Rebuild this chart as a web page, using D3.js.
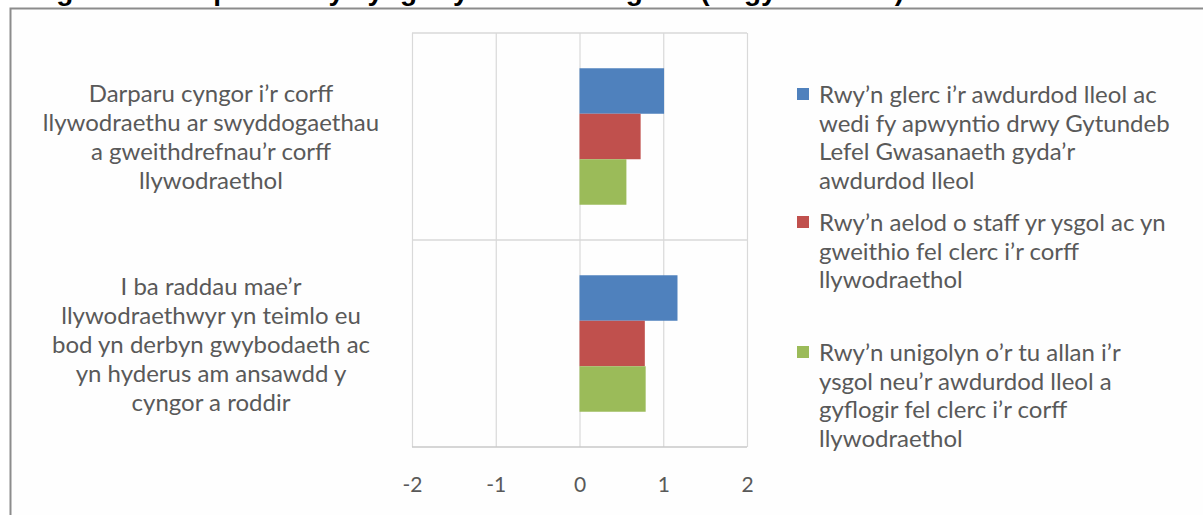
<!DOCTYPE html>
<html>
<head>
<meta charset="utf-8">
<script src="https://cdn.jsdelivr.net/npm/d3@7"></script>
<style>
  html, body { margin: 0; padding: 0; background: #ffffff; }
  svg { display: block; }
  text { font-family: Lato, "Open Sans", sans-serif; }
</style>
</head>
<body>
<svg id="chart" width="1203" height="515"></svg>
<script>
// Survey questions (category axis), top to bottom
const categories = [
  "Darparu cyngor i’r corff\nllywodraethu ar swyddogaethau\na gweithdrefnau’r corff\nllywodraethol",
  "I ba raddau mae’r\nllywodraethwyr yn teimlo eu\nbod yn derbyn gwybodaeth ac\nyn hyderus am ansawdd y\ncyngor a roddir"
];

// Clerk types (series)
const seriesNames = [
  "Rwy’n glerc i’r awdurdod lleol ac\nwedi fy apwyntio drwy Gytundeb\nLefel Gwasanaeth gyda’r\nawdurdod lleol",
  "Rwy’n aelod o staff yr ysgol ac yn\ngweithio fel clerc i’r corff\nllywodraethol",
  "Rwy’n unigolyn o’r tu allan i’r\nysgol neu’r awdurdod lleol a\ngyflogir fel clerc i’r corff\nllywodraethol"
];

// Average score per series, one value per category
const localAuthorityClerk = [1.01, 1.17];
const schoolStaffClerk = [0.73, 0.78];
const externalClerk = [0.56, 0.79];

const seriesColors = ["#4f81bd", "#c0504d", "#9bbb59"];
const xTicks = [-2, -1, 0, 1, 2];

const title = "Ffigur 9: Barn panel ar y cyngor yn ôl math o glerc (ar gyfartaledd)";

const seriesValues = [localAuthorityClerk, schoolStaffClerk, externalClerk];

const svg = d3.select("#chart");

// Figure title (sits above the chart frame, mostly off the top edge)
svg.append("text")
  .attr("x", 22)
  .attr("y", -0.5)
  .style("font-family", "'Liberation Sans', Arial, sans-serif")
  .attr("font-weight", "bold")
  .attr("font-size", 28)
  .attr("fill", "#000")
  .text(title);

// Chart frame
svg.append("rect")
  .attr("x", 10.5).attr("y", 8.5)
  .attr("width", 1300).attr("height", 600)
  .attr("fill", "#fefefe")
  .attr("stroke", "#8c8c8c")
  .attr("stroke-width", 2);

const plot = { left: 412, right: 747, top: 33, bottom: 447 };

const x = d3.scaleLinear().domain([-2, 2]).range([plot.left, plot.right]);
const y = d3.scaleBand().domain(d3.range(categories.length)).range([plot.top, plot.bottom]);
const ySub = d3.scaleBand().domain(d3.range(seriesNames.length))
  .range([0, y.bandwidth()]).paddingOuter(0.775).paddingInner(0);

const grid = "#d9d9d9";
const textColor = "#595959";
const fontSize = 24;

// Vertical gridlines and value labels
const xAxis = d3.axisBottom(x).tickValues(xTicks).tickSize(-(plot.bottom - plot.top))
  .tickPadding(30).tickFormat(d3.format("d"));
const gx = svg.append("g").attr("transform", `translate(0,${plot.bottom})`).call(xAxis);
gx.select(".domain").remove();
gx.selectAll(".tick line").attr("stroke", grid).attr("stroke-width", 1.2);
gx.selectAll(".tick text")
  .attr("fill", textColor)
  .attr("font-size", 21)
  .style("font-family", "Lato, 'Open Sans', sans-serif")
  .text(d => d < 0 ? "-" + Math.abs(d) : d);

// Horizontal category separators
const bounds = categories.map((c, i) => y(i)).concat([plot.bottom]);
svg.append("g").selectAll("line").data(bounds).join("line")
  .attr("x1", plot.left).attr("x2", plot.right)
  .attr("y1", d => d).attr("y2", d => d)
  .attr("stroke", (d, i) => i === bounds.length - 1 ? "#c8c8c8" : grid)
  .attr("stroke-width", 1.5);

// Bars
const groups = svg.append("g").selectAll("g").data(categories).join("g")
  .attr("transform", (d, i) => `translate(0,${y(i)})`);
groups.selectAll("rect")
  .data((d, ci) => seriesValues.map((vals, si) => ({ si, v: vals[ci] })))
  .join("rect")
  .attr("x", d => x(Math.min(0, d.v)))
  .attr("width", d => Math.abs(x(d.v) - x(0)))
  .attr("y", d => ySub(d.si))
  .attr("height", ySub.bandwidth())
  .attr("fill", d => seriesColors[d.si]);

// Category labels
const lineH = 29;
const catLabels = svg.append("g").selectAll("text").data(categories).join("text")
  .attr("text-anchor", "middle")
  .attr("fill", textColor)
  .attr("font-size", fontSize);
catLabels.each(function (d, i) {
  const lines = d.split("\n");
  const cy = y(i) + y.bandwidth() / 2 + 1;
  const y0 = cy - (lines.length - 1) * lineH / 2 + 8;
  d3.select(this).selectAll("tspan").data(lines).join("tspan")
    .attr("x", 211)
    .attr("y", (l, k) => y0 + k * lineH)
    .text(l => l);
});

// Legend
const legendTops = [95, 223, 353];
const legend = svg.append("g").selectAll("g").data(seriesNames).join("g");
legend.append("rect")
  .attr("x", 797).attr("y", (d, i) => legendTops[i] - 7)
  .attr("width", 12).attr("height", 12)
  .attr("fill", (d, i) => seriesColors[i]);
legend.append("text")
  .attr("fill", textColor)
  .attr("font-size", fontSize)
  .each(function (d, i) {
    d3.select(this).selectAll("tspan").data(d.split("\n")).join("tspan")
      .attr("x", 819)
      .attr("y", (l, k) => legendTops[i] + 8 + k * 28.7)
      .text(l => l);
  });
</script>
</body>
</html>
